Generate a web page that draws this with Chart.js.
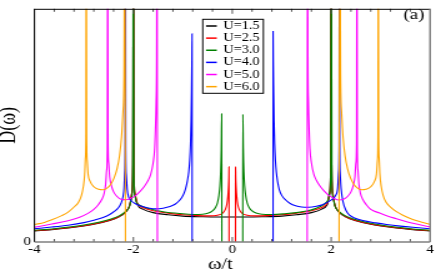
<!DOCTYPE html>
<html>
<head>
<meta charset="utf-8">
<script src="https://cdn.jsdelivr.net/npm/chart.js@4.4.1/dist/chart.umd.min.js"></script>
<style>
  html, body { margin: 0; padding: 0; background: #fff; overflow: hidden; }
  #wrap { width: 436px; height: 273px; overflow: hidden; }
  /* the source figure was stretched sideways, so stretch the canvas the same way */
  #chart { display: block; transform: scaleX(1.2493); transform-origin: 0 0; }
</style>
</head>
<body>
<div id="wrap"><canvas id="chart" width="349" height="273"></canvas></div>
<script>
// D(omega) against omega/t, one curve per U

const uLabels = ["U=1.5", "U=2.5", "U=3.0", "U=4.0", "U=5.0", "U=6.0"];
const lineColors = ["#000000", "#ff0000", "#008000", "#0000ff", "#ff00ff", "#ffa500"];
const omegaTicks = [-4, -2, 0, 2, 4];
const dosTicks = [0];

// [omega/t, D]; null breaks the line across the gap
const dosU15 = [
  [-4.00, 0.047], [-3.60, 0.054], [-3.20, 0.063], [-2.80, 0.076], [-2.50, 0.091], [-2.30, 0.107],
  [-2.15, 0.130], [-2.07, 0.160], [-2.03, 0.210], [-2.01, 0.330], [-2.00, 1.6],
  [-1.99, 0.330], [-1.97, 0.205], [-1.92, 0.160], [-1.80, 0.140], [-1.60, 0.126], [-1.30, 0.117],
  [-1.00, 0.111], [-0.60, 0.108], [-0.30, 0.107], [0.00, 0.107], [0.30, 0.107], [0.60, 0.108],
  [1.00, 0.111], [1.30, 0.117], [1.60, 0.126], [1.80, 0.140], [1.92, 0.160], [1.97, 0.205],
  [1.99, 0.330], [2.00, 1.6],
  [2.01, 0.330], [2.03, 0.210], [2.07, 0.160], [2.15, 0.130], [2.30, 0.107], [2.50, 0.091],
  [2.80, 0.076], [3.20, 0.063], [3.60, 0.054], [4.00, 0.047]
];

const dosU25 = [
  [-4.00, 0.048], [-3.60, 0.055], [-3.20, 0.064], [-2.80, 0.077], [-2.50, 0.092], [-2.30, 0.108],
  [-2.15, 0.131], [-2.07, 0.161], [-2.03, 0.212], [-2.01, 0.330], [-2.00, 1.6],
  [-1.99, 0.330], [-1.97, 0.212], [-1.92, 0.166], [-1.80, 0.147], [-1.60, 0.134], [-1.30, 0.124],
  [-1.00, 0.117], [-0.70, 0.113], [-0.45, 0.112], [-0.30, 0.115], [-0.20, 0.123], [-0.14, 0.140],
  [-0.11, 0.162], [-0.09, 0.195], [-0.077, 0.235], [-0.069, 0.280], [-0.066, 0.322], [-0.065, 0],
  [0, null],
  [0.065, 0], [0.066, 0.322], [0.069, 0.280], [0.077, 0.235], [0.09, 0.195], [0.11, 0.162],
  [0.14, 0.140], [0.20, 0.123], [0.30, 0.115], [0.45, 0.112], [0.70, 0.113], [1.00, 0.117],
  [1.30, 0.124], [1.60, 0.134], [1.80, 0.147], [1.92, 0.166], [1.97, 0.212], [1.99, 0.330], [2.00, 1.6],
  [2.01, 0.330], [2.03, 0.212], [2.07, 0.161], [2.15, 0.131], [2.30, 0.108], [2.50, 0.092],
  [2.80, 0.077], [3.20, 0.064], [3.60, 0.055], [4.00, 0.048]
];

const dosU30 = [
  [-4.00, 0.050], [-3.60, 0.057], [-3.30, 0.064], [-3.00, 0.073], [-2.70, 0.085], [-2.45, 0.099],
  [-2.28, 0.113], [-2.16, 0.130], [-2.08, 0.152], [-2.04, 0.185], [-2.015, 0.260], [-2.00, 1.6],
  [-1.99, 0.300], [-1.97, 0.200], [-1.94, 0.172], [-1.85, 0.156], [-1.73, 0.146], [-1.55, 0.136],
  [-1.40, 0.130], [-1.06, 0.122], [-0.80, 0.118], [-0.60, 0.119], [-0.48, 0.124], [-0.40, 0.133],
  [-0.34, 0.148], [-0.30, 0.168], [-0.27, 0.200], [-0.25, 0.240], [-0.235, 0.300], [-0.223, 0.400],
  [-0.214, 0.550], [-0.212, 0],
  [0, null],
  [0.212, 0], [0.214, 0.548], [0.223, 0.400], [0.235, 0.300], [0.25, 0.240], [0.27, 0.200],
  [0.30, 0.168], [0.34, 0.148], [0.40, 0.133], [0.48, 0.124], [0.60, 0.119], [0.80, 0.118],
  [1.06, 0.121], [1.30, 0.126], [1.50, 0.133], [1.65, 0.141], [1.78, 0.152], [1.88, 0.166],
  [1.94, 0.183], [1.97, 0.215], [1.99, 0.300], [2.00, 1.6],
  [2.015, 0.260], [2.04, 0.185], [2.08, 0.152], [2.16, 0.130], [2.28, 0.113], [2.45, 0.099],
  [2.70, 0.085], [3.00, 0.073], [3.30, 0.064], [3.60, 0.057], [4.00, 0.050]
];

const dosU40 = [
  [-4.00, 0.057], [-3.65, 0.064], [-3.32, 0.072], [-3.00, 0.083], [-2.80, 0.093], [-2.60, 0.106],
  [-2.48, 0.118], [-2.38, 0.132], [-2.30, 0.148], [-2.25, 0.166], [-2.21, 0.195], [-2.19, 0.230],
  [-2.175, 0.300], [-2.166, 0.420], [-2.16, 1.6],
  [-2.155, 0.420], [-2.145, 0.290], [-2.125, 0.225], [-2.10, 0.195], [-2.05, 0.178], [-1.95, 0.163],
  [-1.85, 0.154], [-1.70, 0.146], [-1.53, 0.142], [-1.40, 0.145], [-1.26, 0.152], [-1.15, 0.163],
  [-1.06, 0.180], [-1.00, 0.198], [-0.95, 0.225], [-0.91, 0.260], [-0.88, 0.300], [-0.86, 0.350],
  [-0.845, 0.420], [-0.833, 0.520], [-0.824, 0.650], [-0.817, 0.780], [-0.813, 0.893], [-0.812, 0],
  [0, null],
  [0.824, 0], [0.825, 0.905], [0.829, 0.780], [0.836, 0.650], [0.845, 0.520], [0.857, 0.420],
  [0.872, 0.350], [0.89, 0.300], [0.915, 0.260], [0.95, 0.225], [1.00, 0.200], [1.08, 0.180],
  [1.17, 0.165], [1.28, 0.155], [1.40, 0.150], [1.55, 0.149], [1.70, 0.153], [1.82, 0.160],
  [1.94, 0.172], [2.03, 0.185], [2.09, 0.200], [2.13, 0.230], [2.15, 0.300], [2.16, 0.420], [2.166, 1.6],
  [2.172, 0.420], [2.18, 0.300], [2.20, 0.230], [2.24, 0.172], [2.30, 0.135], [2.37, 0.115],
  [2.50, 0.101], [2.64, 0.092], [2.90, 0.082], [3.12, 0.075], [3.40, 0.068], [3.65, 0.063], [4.00, 0.057]
];

const dosU50 = [
  [-4.00, 0.063], [-3.65, 0.077], [-3.32, 0.091], [-3.10, 0.105], [-2.91, 0.124], [-2.80, 0.140],
  [-2.71, 0.160], [-2.64, 0.182], [-2.59, 0.210], [-2.56, 0.250], [-2.54, 0.310], [-2.528, 0.400], [-2.52, 1.6],
  [-2.512, 0.420], [-2.50, 0.340], [-2.48, 0.280], [-2.45, 0.245], [-2.40, 0.215], [-2.33, 0.195],
  [-2.25, 0.183], [-2.15, 0.181], [-2.05, 0.188], [-1.95, 0.200], [-1.86, 0.218], [-1.78, 0.238],
  [-1.70, 0.265], [-1.65, 0.290], [-1.60, 0.340], [-1.57, 0.400], [-1.555, 0.480], [-1.54, 0.600],
  [-1.53, 0.800], [-1.522, 1.6], [-1.515, 0],
  [0, null],
  [1.515, 0], [1.522, 1.6], [1.53, 0.800], [1.54, 0.600], [1.555, 0.480], [1.57, 0.400], [1.60, 0.340],
  [1.65, 0.290], [1.70, 0.265], [1.78, 0.238], [1.86, 0.218], [1.95, 0.200], [2.05, 0.188],
  [2.15, 0.180], [2.25, 0.183], [2.33, 0.195], [2.40, 0.215], [2.45, 0.245], [2.48, 0.280],
  [2.50, 0.340], [2.512, 0.420], [2.52, 1.6],
  [2.528, 0.400], [2.54, 0.310], [2.56, 0.250], [2.59, 0.210], [2.64, 0.182], [2.71, 0.160],
  [2.80, 0.140], [2.98, 0.124], [3.15, 0.110], [3.32, 0.100], [3.65, 0.080], [4.00, 0.065]
];

const dosU60 = [
  [-4.00, 0.075], [-3.80, 0.084], [-3.65, 0.095], [-3.45, 0.113], [-3.32, 0.128], [-3.20, 0.150],
  [-3.11, 0.170], [-3.05, 0.200], [-3.01, 0.240], [-2.985, 0.290], [-2.97, 0.360], [-2.96, 0.450], [-2.953, 1.6],
  [-2.945, 0.450], [-2.935, 0.350], [-2.915, 0.290], [-2.88, 0.262], [-2.80, 0.237], [-2.70, 0.226],
  [-2.62, 0.224], [-2.54, 0.230], [-2.46, 0.247], [-2.39, 0.275], [-2.33, 0.315], [-2.28, 0.370],
  [-2.24, 0.450], [-2.21, 0.560], [-2.19, 0.720], [-2.175, 1.6], [-2.16, 0],
  [0, null],
  [2.16, 0], [2.175, 1.6], [2.19, 0.720], [2.21, 0.560], [2.24, 0.450], [2.28, 0.370], [2.33, 0.315],
  [2.39, 0.275], [2.46, 0.247], [2.54, 0.230], [2.62, 0.224], [2.70, 0.226], [2.80, 0.237],
  [2.88, 0.262], [2.915, 0.290], [2.935, 0.350], [2.945, 0.450], [2.953, 1.6],
  [2.96, 0.450], [2.97, 0.360], [2.985, 0.290], [3.01, 0.240], [3.05, 0.200], [3.11, 0.170],
  [3.20, 0.150], [3.32, 0.130], [3.45, 0.115], [3.65, 0.097], [3.80, 0.087], [4.00, 0.075]
];

const allDos = [dosU15, dosU25, dosU30, dosU40, dosU50, dosU60];

Chart.defaults.font.family = "'Liberation Serif', 'Times New Roman', serif";
Chart.defaults.color = "#000";

// frame, inward ticks, axis titles, boxed legend and the (a) tag
const framePlugin = {
  id: "frame",
  afterDraw(chart) {
    const ctx = chart.ctx;
    const area = chart.chartArea;
    const xs = chart.scales.x;
    const ys = chart.scales.y;
    ctx.save();

    ctx.strokeStyle = "#555";
    ctx.lineWidth = 1;
    for (let i = 1; i < 20; i++) {
      const px = xs.getPixelForValue(-4 + i * 0.4);
      const len = i % 5 === 0 ? 5 : 3;
      ctx.beginPath();
      ctx.moveTo(px, area.bottom);
      ctx.lineTo(px, area.bottom - len);
      ctx.moveTo(px, area.top);
      ctx.lineTo(px, area.top + len);
      ctx.stroke();
    }

    ctx.strokeStyle = "#000";
    ctx.beginPath();
    ctx.moveTo(area.left, area.top + 0.5);
    ctx.lineTo(area.right, area.top + 0.5);
    ctx.moveTo(area.left, area.top);
    ctx.lineTo(area.left, area.bottom);
    ctx.stroke();
    ctx.strokeStyle = "#808080";
    ctx.lineWidth = 1.5;
    ctx.beginPath();
    ctx.moveTo(area.left, area.bottom);
    ctx.lineTo(area.right, area.bottom);
    ctx.moveTo(area.right, area.top);
    ctx.lineTo(area.right, area.bottom);
    ctx.stroke();

    // axis titles; the x one sits a little left of centre in the original
    ctx.fillStyle = "#000";
    ctx.font = "16.5px 'Liberation Serif', serif";
    ctx.textAlign = "center";
    ctx.textBaseline = "alphabetic";
    ctx.fillText("ω/t", xs.getPixelForValue(-0.24), 268.5);

    ctx.save();
    ctx.translate(12.3, ys.getPixelForValue(0.5));
    ctx.rotate(-Math.PI / 2);
    ctx.font = "18px 'Liberation Serif', serif";
    ctx.fillText("D(ω)", 0, 0);
    ctx.restore();

    // legend box
    const bx = 162.3, by = 19.3, bw = 48.5, bh = 74;
    ctx.fillStyle = "#fff";
    ctx.fillRect(bx, by, bw, bh);
    ctx.strokeStyle = "#000";
    ctx.lineWidth = 1;
    ctx.strokeRect(bx, by, bw, bh);
    ctx.font = "11.5px 'Liberation Serif', serif";
    ctx.textBaseline = "middle";
    ctx.textAlign = "left";
    chart.data.datasets.forEach((ds, i) => {
      const y = by + 6.7 + i * 12.13;
      ctx.strokeStyle = ds.borderColor;
      ctx.lineWidth = 1.5;
      ctx.beginPath();
      ctx.moveTo(bx + 2.6, y);
      ctx.lineTo(bx + 11.2, y);
      ctx.stroke();
      ctx.fillStyle = "#000";
      ctx.fillText(ds.label, bx + 16.4, y);
    });

    ctx.font = "15px 'Liberation Serif', serif";
    ctx.textAlign = "center";
    ctx.fillText("(a)", 331.4, 15.5);
    ctx.restore();
  }
};

const ctx = document.getElementById("chart").getContext("2d");

const chart = new Chart(ctx, {
  type: "line",
  data: {
    datasets: uLabels.map((label, i) => ({
      label: label,
      data: allDos[i],
      borderColor: lineColors[i],
      backgroundColor: lineColors[i],
      borderWidth: 1.1,
      pointRadius: 0,
      fill: false,
      spanGaps: false,
      cubicInterpolationMode: "monotone",
      order: uLabels.length - i, // higher U drawn on top
    })),
  },
  options: {
    responsive: false,
    animation: false,
    layout: { padding: { top: 1, right: 4.4, left: 0, bottom: 0 } },
    plugins: {
      legend: { display: false },
      tooltip: { enabled: false },
    },
    scales: {
      x: {
        type: "linear",
        min: -4,
        max: 4,
        afterBuildTicks: (s) => { s.ticks = omegaTicks.map((v) => ({ value: v })); },
        afterFit: (s) => { s.height = 31; },
        grid: { display: false, drawTicks: false },
        border: { display: false },
        ticks: { autoSkip: false, maxRotation: 0, padding: 1.75, font: { size: 12, lineHeight: 1 } },
      },
      y: {
        min: 0,
        max: 1,
        afterBuildTicks: (s) => { s.ticks = dosTicks.map((v) => ({ value: v })); },
        afterFit: (s) => { s.width = 27.6; },
        grid: { display: false, drawTicks: false },
        border: { display: false },
        ticks: { padding: 2.8, font: { size: 12, lineHeight: 1 } },
      },
    },
  },
  plugins: [framePlugin],
});
</script>
</body>
</html>
